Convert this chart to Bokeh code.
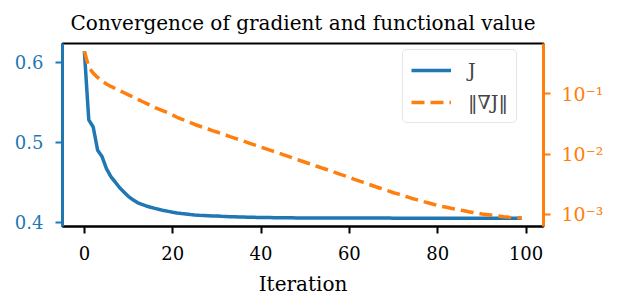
from bokeh.plotting import figure
from bokeh.models import (Range1d, LinearAxis, LogAxis, LogScale, FixedTicker,
                          CustomJSTickFormatter, Legend, LegendItem)
from bokeh.embed import file_html
from bokeh.resources import INLINE

# ---------------- data ----------------
iterations = list(range(100))

J_values = [
    0.6135, 0.528, 0.519, 0.490, 0.482, 0.467, 0.457, 0.450, 0.443, 0.4375,
    0.432, 0.428, 0.4245, 0.4222, 0.4203, 0.4187, 0.4172, 0.4158, 0.4145, 0.4135,
    0.4125, 0.4116, 0.4108, 0.4102, 0.4096, 0.4091, 0.4087, 0.4084, 0.4081, 0.4078,
    0.4076, 0.4073, 0.4071, 0.4069, 0.4067, 0.4065, 0.4064, 0.4062, 0.4061, 0.4060,
    0.4059, 0.4058, 0.4057, 0.4056, 0.4055, 0.4055, 0.4054, 0.4054, 0.4053, 0.4053,
    0.4052, 0.4052, 0.4052, 0.4052, 0.4052, 0.4052, 0.4052, 0.4052, 0.4052, 0.4052,
    0.4051, 0.4051, 0.4051, 0.4051, 0.4051, 0.4051, 0.4051, 0.4051, 0.4051, 0.4051,
    0.4050, 0.4050, 0.4050, 0.4050, 0.4050, 0.4050, 0.4050, 0.4050, 0.4050, 0.4050,
    0.4050, 0.4050, 0.4050, 0.4050, 0.4050, 0.4050, 0.4050, 0.4050, 0.4050, 0.4050,
    0.4050, 0.4050, 0.4050, 0.4050, 0.4050, 0.4050, 0.4050, 0.4050, 0.4050, 0.4050,
]

grad_norm = [
    0.504, 0.275, 0.219, 0.186, 0.162, 0.145, 0.132, 0.122, 0.112, 0.1035,
    0.0955, 0.0881, 0.0813, 0.0750, 0.0692, 0.0638, 0.0589, 0.0550, 0.0513, 0.0479,
    0.0442, 0.0407, 0.0380, 0.0355, 0.0331, 0.0309, 0.0292, 0.0275, 0.0260, 0.0245,
    0.0232, 0.0219, 0.0207, 0.0195, 0.0184, 0.0174, 0.0164, 0.0155, 0.0146, 0.0138,
    0.0130, 0.0123, 0.0116, 0.0110, 0.0104, 0.00977, 0.00923, 0.00871, 0.00822, 0.00776,
    0.00733, 0.00692, 0.00653, 0.00617, 0.00582, 0.00550, 0.00519, 0.00490, 0.00462, 0.00437,
    0.00412, 0.00385, 0.00363, 0.00343, 0.00324, 0.00305, 0.00288, 0.00272, 0.00257, 0.00243,
    0.00229, 0.00219, 0.00207, 0.00197, 0.00186, 0.00178, 0.00170, 0.00162, 0.00155, 0.00148,
    0.00141, 0.00136, 0.00132, 0.00127, 0.00123, 0.00119, 0.00115, 0.00111, 0.00108, 0.00105,
    0.00102, 0.00100, 0.000977, 0.000955, 0.000938, 0.000920, 0.000904, 0.000891, 0.000879, 0.000871,
]

x_ticks = [0, 20, 40, 60, 80, 100]
J_ticks = [0.4, 0.5, 0.6]
grad_ticks = [1e-3, 1e-2, 1e-1]

title_text = "Convergence of gradient and functional value"
x_label = "Iteration"
legend_labels = ["J", "‖∇J‖"]

# ---------------- styling ----------------
BLUE = "#1f77b4"
ORANGE = "#ff7f0e"
FONT = "DejaVu Serif"

p = figure(width=622, height=298, output_backend="svg", toolbar_location=None,
           x_range=Range1d(-4.95, 103.95), y_range=Range1d(0.3946, 0.6234),
           min_border_left=62, min_border_right=79, min_border_top=41,
           min_border_bottom=70, x_axis_location=None, y_axis_location=None)
p.grid.visible = False
p.outline_line_color = "black"
p.outline_line_width = 2
p.background_fill_color = "white"
p.border_fill_color = "white"

p.extra_y_ranges = {"grad": Range1d(10 ** -3.199, 10 ** -0.169)}
p.extra_y_scales = {"grad": LogScale()}

# bottom axis
xa = LinearAxis(ticker=FixedTicker(ticks=x_ticks), axis_label=x_label)
xa.axis_line_color = "black"
xa.axis_line_width = 2
xa.major_tick_line_color = "black"
xa.major_tick_line_width = 2
xa.major_tick_out = 7
xa.major_tick_in = 0
xa.minor_tick_line_color = None
xa.major_label_text_font = FONT
xa.major_label_text_font_size = "18px"
xa.major_label_text_color = "black"
xa.major_label_standoff = 12
xa.axis_label_text_font = FONT
xa.axis_label_text_font_size = "20px"
xa.axis_label_text_font_style = "normal"
xa.axis_label_text_color = "black"
xa.axis_label_standoff = 9
p.add_layout(xa, "below")

# left axis
la = LinearAxis(ticker=FixedTicker(ticks=J_ticks))
la.axis_line_color = BLUE
la.axis_line_width = 3
la.major_tick_line_color = BLUE
la.major_tick_line_width = 2
la.major_tick_out = 7
la.major_tick_in = 0
la.minor_tick_line_color = None
la.major_label_text_font = FONT
la.major_label_text_font_size = "18px"
la.major_label_text_color = BLUE
la.major_label_standoff = 12
p.add_layout(la, "left")

# right axis (log)
ra = LogAxis(y_range_name="grad", ticker=FixedTicker(ticks=grad_ticks))
ra.formatter = CustomJSTickFormatter(code="""
const e = Math.round(Math.log10(tick));
const sup = {"-":"\u207b","0":"\u2070","1":"\u00b9","2":"\u00b2","3":"\u00b3",
             "4":"\u2074","5":"\u2075","6":"\u2076","7":"\u2077","8":"\u2078","9":"\u2079"};
return "10" + String(e).split("").map(c => sup[c]).join("");
""")
ra.axis_line_color = ORANGE
ra.axis_line_width = 3
ra.major_tick_line_color = ORANGE
ra.major_tick_line_width = 2
ra.major_tick_out = 7
ra.major_tick_in = 0
ra.minor_tick_line_color = None
ra.major_label_text_font = FONT
ra.major_label_text_font_size = "19px"
ra.major_label_text_color = ORANGE
ra.major_label_standoff = 11
p.add_layout(ra, "right")

# lines
rJ = p.line(iterations, J_values, line_color=BLUE, line_width=3.5)
rG = p.line(iterations, grad_norm, line_color=ORANGE, line_width=3.5,
            line_dash="13 6", y_range_name="grad")

legend = Legend(items=[LegendItem(label=legend_labels[0], renderers=[rJ]),
                       LegendItem(label=legend_labels[1], renderers=[rG])],
                location=(340, 103))
legend.label_text_font = FONT
legend.label_text_font_size = "19px"
legend.glyph_width = 40
legend.glyph_height = 24
legend.label_height = 24
legend.label_standoff = 17
legend.spacing = 8
legend.padding = 8
legend.margin = 0
legend.border_line_color = "#cccccc"
legend.border_line_width = 1.5
legend.background_fill_alpha = 0.8
if "border_radius" in Legend.properties():
    legend.border_radius = 5
p.add_layout(legend, "center")

p.title.text = title_text
p.title.text_font = FONT
p.title.text_font_size = "20px"
p.title.text_font_style = "normal"
p.title.align = "center"
p.title.text_color = "black"
p.title.text_line_height = 0.8
p.title.standoff = 17

open("out.html", "w").write(file_html(p, INLINE))
